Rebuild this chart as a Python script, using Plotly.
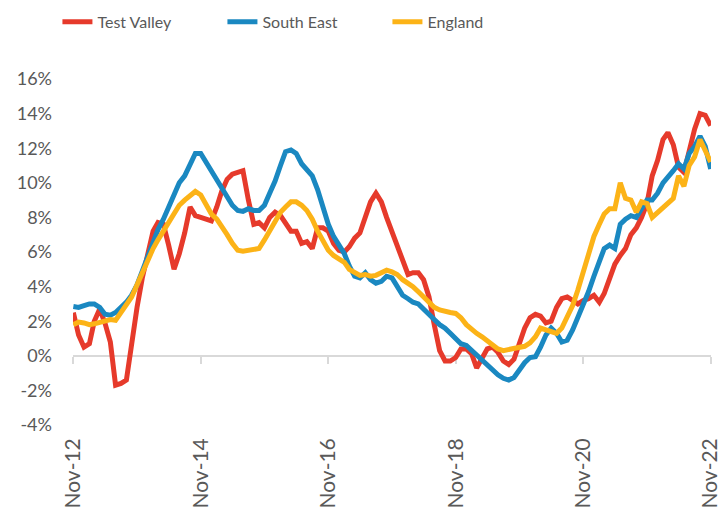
import pandas as pd
import plotly.graph_objects as go

months = pd.date_range("2012-11-01", periods=121, freq="MS")

test_valley = [
    2.5, 1.2, 0.5, 0.7, 2.0, 2.7, 1.9, 0.8, -1.7, -1.6,
    -1.4, 0.8, 2.8, 4.5, 6.0, 7.2, 7.7, 7.6, 6.4, 5.0,
    5.9, 7.1, 8.6, 8.1, 8.0, 7.9, 7.8, 8.6, 9.5, 10.2,
    10.5, 10.6, 10.7, 9.0, 7.6, 7.7, 7.4, 8.0, 8.3, 8.1,
    7.6, 7.2, 7.2, 6.5, 6.6, 6.2, 7.4, 7.4, 7.2, 6.5,
    6.1, 6.0, 6.3, 6.8, 7.1, 8.0, 8.9, 9.4, 8.9, 8.0,
    7.2, 6.4, 5.5, 4.7, 4.8, 4.8, 4.4, 3.4, 1.8, 0.3,
    -0.3, -0.3, -0.1, 0.4, 0.4, 0.1, -0.7, -0.2, 0.4, 0.5,
    0.2, -0.3, -0.5, -0.2, 0.7, 1.6, 2.2, 2.4, 2.3, 1.9,
    2.0, 2.8, 3.3, 3.4, 3.2, 3.0, 3.2, 3.3, 3.5, 3.1,
    3.6, 4.5, 5.3, 5.8, 6.2, 7.0, 7.4, 8.0, 8.8, 10.4,
    11.3, 12.5, 12.9, 12.2, 10.9, 10.6, 11.8, 13.1, 14.0, 13.9,
    13.3,
]

south_east = [
    2.85, 2.8, 2.9, 3.0, 3.0, 2.8, 2.4, 2.35, 2.5, 2.8,
    3.1, 3.5, 4.1, 4.9, 5.8, 6.6, 7.3, 7.9, 8.6, 9.3,
    10.0, 10.4, 11.0, 11.7, 11.7, 11.2, 10.7, 10.2, 9.8, 9.3,
    8.7, 8.4, 8.35, 8.5, 8.4, 8.4, 8.7, 9.4, 10.1, 11.0,
    11.8, 11.9, 11.7, 11.1, 10.8, 10.4, 9.6, 8.5, 7.6, 6.9,
    6.4, 5.9, 5.2, 4.6, 4.5, 4.8, 4.4, 4.2, 4.3, 4.6,
    4.5, 4.0, 3.5, 3.3, 3.1, 3.0, 2.7, 2.3, 2.1, 1.8,
    1.6, 1.3, 1.0, 0.7, 0.6, 0.3, 0.0, -0.2, -0.5, -0.8,
    -1.1, -1.3, -1.4, -1.25, -0.8, -0.4, -0.1, -0.05, 0.5, 1.2,
    1.6, 1.3, 0.8, 0.9, 1.5, 2.2, 2.9, 3.7, 4.6, 5.5,
    6.2, 6.4, 6.2, 7.6, 7.9, 8.1, 8.0, 8.5, 9.0, 9.0,
    9.4, 10.0, 10.3, 10.7, 11.1, 10.8, 11.7, 12.1, 12.7, 12.1,
    10.8,
]

england = [
    1.8, 1.95, 1.9, 1.8, 1.85, 1.95, 2.05, 2.1, 2.05, 2.5,
    2.9, 3.4, 4.1, 4.8, 5.4, 6.2, 6.7, 7.2, 7.8, 8.25,
    8.7, 9.0, 9.3, 9.5, 9.3, 8.8, 8.2, 7.9, 7.5, 7.0,
    6.5, 6.1, 6.05, 6.1, 6.1, 6.2, 6.7, 7.2, 7.8, 8.3,
    8.6, 8.9, 8.9, 8.7, 8.4, 7.9, 7.2, 6.6, 6.1, 5.8,
    5.6, 5.4, 5.0, 4.8, 4.65, 4.7, 4.6, 4.65, 4.8, 4.95,
    4.85, 4.7, 4.4, 4.2, 4.0, 3.7, 3.4, 3.0, 2.8, 2.65,
    2.55, 2.5, 2.45, 2.2, 1.8, 1.5, 1.3, 1.1, 0.85, 0.6,
    0.4, 0.3, 0.35, 0.4, 0.45, 0.55, 0.75, 1.1, 1.6, 1.5,
    1.4, 1.3, 1.6, 2.3, 2.9, 3.8, 4.9, 6.0, 6.9, 7.6,
    8.2, 8.5, 8.5, 10.0, 9.1, 9.0, 8.3, 8.9, 8.8, 8.0,
    8.3, 8.6, 8.9, 9.1, 10.4, 9.8, 11.0, 11.5, 12.5, 11.9,
    11.2,
]

y_ticks = [-4, -2, 0, 2, 4, 6, 8, 10, 12, 14, 16]
y_tick_text = [f"{v}%" for v in y_ticks]

# (name, values, colour, x-axis) - England drawn on the overlay axis that carries
# the zero-line ticks, so it is also drawn on top like in the original
series = [
    ("Test Valley", test_valley, "#E63A2B", "x"),
    ("South East", south_east, "#1A88C1", "x"),
    ("England", england, "#FCB317", "x2"),
]

FONT = "Lato, Calibri, Carlito, sans-serif"
GREY = "#595959"
AXIS_GREY = "#D9D9D9"

fig = go.Figure()
for name, vals, col, xa in series:
    fig.add_trace(go.Scatter(
        x=months, y=vals, name=name, mode="lines", xaxis=xa, yaxis="y",
        line=dict(color=col, width=5),
    ))

x_range = [months[0] - pd.Timedelta(days=2), months[-1] + pd.Timedelta(days=2)]

fig.update_layout(
    width=723, height=510,
    margin=dict(l=73, r=12, t=79, b=85, autoexpand=False),
    plot_bgcolor="white", paper_bgcolor="white",
    font=dict(family=FONT, color=GREY),
    showlegend=True,
    legend=dict(
        orientation="h", x=-0.0244, xanchor="left", y=1.165, yanchor="middle",
        font=dict(size=16, color=GREY), entrywidth=120, entrywidthmode="pixels",
        bgcolor="rgba(0,0,0,0)",
    ),
    xaxis=dict(
        type="date", range=x_range,
        tickformat="%b-%y", dtick="M24", tick0=months[0],
        tickangle=-90, showgrid=False, showline=False, zeroline=False,
        ticks="", ticklabelstandoff=8, automargin=False,
        ticklabeloverflow="allow",
        tickfont=dict(size=21, color=GREY, family=FONT),
    ),
    xaxis2=dict(
        type="date", overlaying="x", matches="x", anchor="free", position=0.2,
        showline=True, linecolor=AXIS_GREY, linewidth=2,
        ticks="outside", ticklen=7, tickwidth=2, tickcolor=AXIS_GREY,
        dtick="M24", tick0=months[0], showticklabels=False, showgrid=False,
        zeroline=False, layer="below traces",
    ),
    yaxis=dict(
        range=[-4, 16], tickvals=y_ticks, ticktext=y_tick_text,
        showgrid=False, zeroline=False, showline=False,
        ticklabelstandoff=20, automargin=False,
        tickfont=dict(size=18, color=GREY, family=FONT),
    ),
)

fig.write_html(
    "out.html",
    config={"displayModeBar": False},
    post_script="document.body.style.margin='0';document.body.style.padding='0';",
)
